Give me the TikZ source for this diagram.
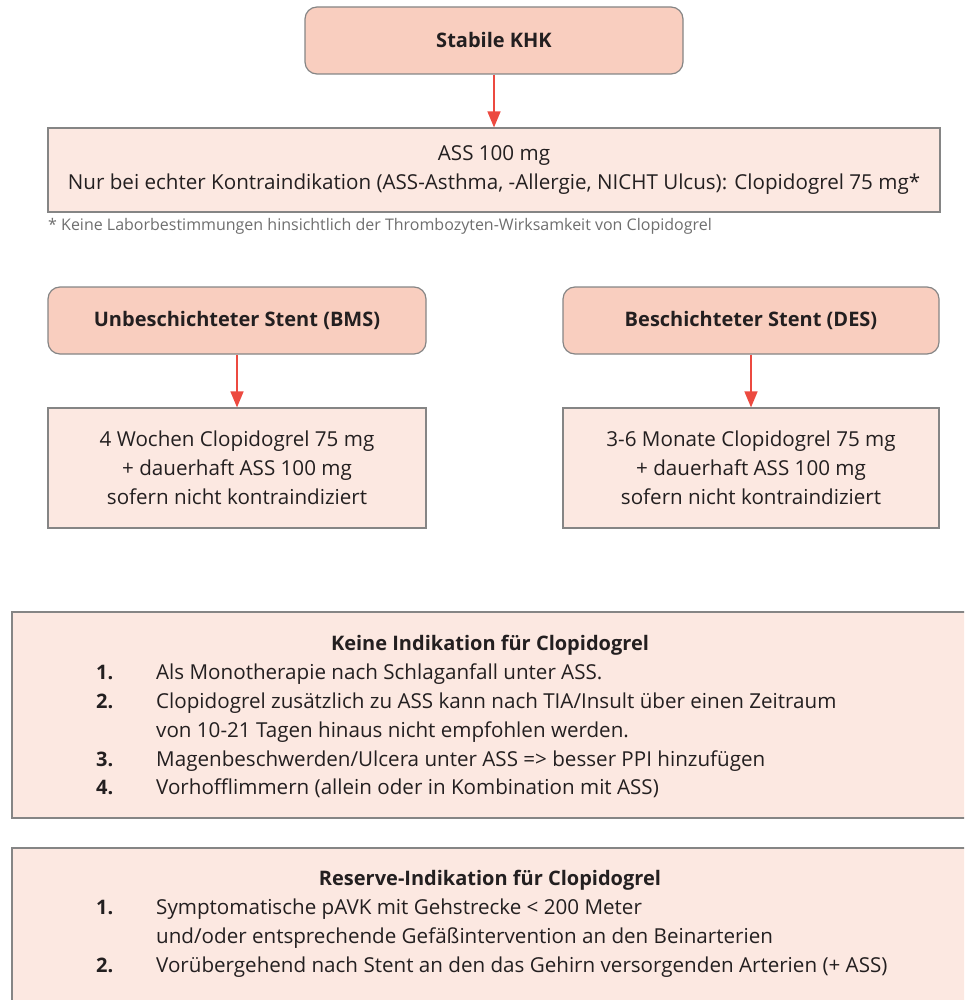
\documentclass[tikz,border=0pt]{standalone}
\usepackage{fontspec}
\setmainfont{Open Sans}
\usetikzlibrary{arrows.meta}
\usetikzlibrary{positioning}
\definecolor{headfill}{HTML}{F9CEBF}
\definecolor{bodyfill}{HTML}{FCE8E1}
\definecolor{boxline}{HTML}{858585}
\definecolor{arrowred}{HTML}{EC4A40}
\definecolor{textdark}{HTML}{231F20}
\definecolor{notegray}{HTML}{6E6E6E}
\newcommand{\bodyfont}{\fontsize{20.6}{29}\selectfont}
\newcommand{\headfont}{\fontsize{20}{29}\selectfont\bfseries}
\tikzstyle{chead}  = [fill=headfill, draw=boxline, line width=1.2pt, rounded corners=12pt, minimum width=376pt, minimum height=67pt, text=textdark, font=\headfont]
\tikzstyle{cbody}  = [fill=bodyfill, draw=boxline, line width=1.2pt, align=center, text=textdark, font=\bodyfont]
\tikzstyle{carrow} = [draw=arrowred, line width=1.6pt, -{Triangle[length=16pt,width=13pt]}]
\tikzstyle{cnum}   = [anchor=base west, inner sep=0pt, text=textdark, font=\headfont]
\tikzstyle{citem}  = [anchor=base west, inner sep=0pt, text=textdark, font=\bodyfont]
\tikzstyle{ctitle} = [anchor=base, inner sep=0pt, text=textdark, font=\headfont]

\begin{document}
\begin{tikzpicture}[x=1pt,y=-1pt]
  \clip (0,0) rectangle (964,1000);
  \useasboundingbox (0,0) rectangle (964,1000);
  % Stabile KHK
  \node[chead, minimum width=378pt] (khk) at (494,40.5) {Stabile KHK};
  \node[cbody, minimum width=892pt, minimum height=84pt] (ass) at (494,170)
    {ASS 100 mg\\Nur bei echter Kontraindikation (ASS-Asthma, -Allergie, NICHT Ulcus): Clopidogrel 75 mg*};
  \draw[carrow] (khk) -- (ass);
  \node[anchor=base west, inner sep=0pt, text=notegray, font=\fontsize{16}{18}\selectfont] (note) at (48,231)
    {* Keine Laborbestimmungen hinsichtlich der Thrombozyten-Wirksamkeit von Clopidogrel};
  % Stents
  \node[chead, minimum width=378pt] (bms) at (237,320.5) {Unbeschichteter Stent (BMS)};
  \node[cbody, minimum width=378pt, minimum height=120pt] (bmstx) at (237,468)
    {4 Wochen Clopidogrel 75 mg\\+ dauerhaft ASS 100 mg\\sofern nicht kontraindiziert};
  \draw[carrow] (bms) -- (bmstx);
  \node[chead] (des) at (751,320.5) {Beschichteter Stent (DES)};
  \node[cbody, minimum width=376pt, minimum height=120pt] (destx) at (751,468)
    {3-6 Monate Clopidogrel 75 mg\\+ dauerhaft ASS 100 mg\\sofern nicht kontraindiziert};
  \draw[carrow] (des) -- (destx);
  % Keine Indikation
  \filldraw[fill=bodyfill, draw=boxline, line width=1.2pt] (12,612) rectangle (980,818);
  \node[ctitle] (keine) at (490,650) {Keine Indikation für Clopidogrel};
  \node[cnum] (k1) at (96,679) {1.};
  \node[citem] (k1t) at (156,679) {Als Monotherapie nach Schlaganfall unter ASS.};
  \node[cnum] (k2) at (96,708) {2.};
  \node[citem] (k2t) at (156,708) {Clopidogrel zusätzlich zu ASS kann nach TIA/Insult über einen Zeitraum};
  \node[citem] (k2u) at (156,737) {von 10-21 Tagen hinaus nicht empfohlen werden.};
  \node[cnum] (k3) at (96,766) {3.};
  \node[citem] (k3t) at (156,766) {Magenbeschwerden/Ulcera unter ASS => besser PPI hinzufügen};
  \node[cnum] (k4) at (96,794) {4.};
  \node[citem] (k4t) at (156,794) {Vorhofflimmern (allein oder in Kombination mit ASS)};
  % Reserve-Indikation
  \filldraw[fill=bodyfill, draw=boxline, line width=1.2pt] (12,848) rectangle (980,1020);
  \node[ctitle] (reserve) at (490,885) {Reserve-Indikation für Clopidogrel};
  \node[cnum] (r1) at (96,914) {1.};
  \node[citem] (r1t) at (156,914) {Symptomatische pAVK mit Gehstrecke < 200 Meter};
  \node[citem] (r1u) at (156,943) {und/oder entsprechende Gefäßintervention an den Beinarterien};
  \node[cnum] (r2) at (96,972) {2.};
  \node[citem] (r2t) at (156,972) {Vorübergehend nach Stent an den das Gehirn versorgenden Arterien (+ ASS)};
\end{tikzpicture}
\end{document}
